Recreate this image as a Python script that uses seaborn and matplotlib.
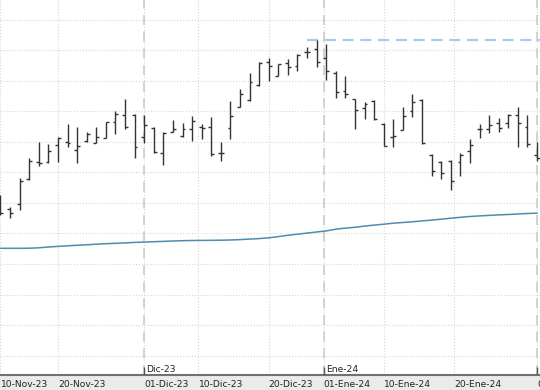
import numpy as np
import pandas as pd
import matplotlib
matplotlib.use('Agg')
import matplotlib.pyplot as plt
import seaborn as sns

# trading days (Spanish market, closed 25/26 Dec and 1 Jan)
holidays = ['2023-12-25', '2023-12-26', '2024-01-01']
dates = pd.bdate_range('2023-11-10', '2024-02-01')
dates = dates[~dates.isin(pd.to_datetime(holidays))]

opens = [4.02, 3.91, 3.96, 4.21, 4.38, 4.38, 4.55, 4.58, 4.50, 4.59,
         4.57, 4.62, 4.78, 4.85, 4.85, 4.63, 4.72, 4.47, 4.68, 4.64,
         4.71, 4.73, 4.73, 4.47, 4.72, 4.93, 5.00, 5.15, 5.38, 5.24,
         5.37, 5.34, 5.48, 5.51, 5.42, 5.27, 5.09, 5.01, 4.92, 4.99,
         4.76, 4.63, 4.70, 4.89, 5.00, 4.45, 4.38, 4.39, 4.38, 4.49,
         4.71, 4.71, 4.77, 4.77, 4.85, 4.73, 4.45]
highs = [4.05, 3.93, 4.22, 4.42, 4.58, 4.56, 4.63, 4.76, 4.73, 4.68,
         4.73, 4.78, 4.89, 5.01, 4.86, 4.85, 4.73, 4.68, 4.80, 4.77,
         4.84, 4.76, 4.83, 4.58, 4.99, 5.11, 5.27, 5.38, 5.42, 5.36,
         5.41, 5.46, 5.53, 5.60, 5.56, 5.29, 5.24, 5.01, 4.98, 5.00,
         4.77, 4.81, 4.93, 5.06, 5.01, 4.46, 4.39, 4.40, 4.47, 4.61,
         4.76, 4.85, 4.82, 4.86, 4.93, 4.85, 4.58]
lows = [3.85, 3.82, 3.90, 4.20, 4.34, 4.37, 4.38, 4.53, 4.37, 4.58,
        4.57, 4.62, 4.66, 4.71, 4.42, 4.57, 4.47, 4.35, 4.68, 4.63,
        4.59, 4.61, 4.44, 4.39, 4.61, 4.93, 4.99, 5.14, 5.19, 5.24,
        5.25, 5.29, 5.42, 5.33, 5.20, 5.02, 5.02, 4.71, 4.81, 4.80,
        4.54, 4.53, 4.70, 4.83, 4.56, 4.24, 4.21, 4.10, 4.24, 4.37,
        4.62, 4.67, 4.68, 4.72, 4.53, 4.53, 4.39]
closes = [3.87, 3.87, 4.19, 4.39, 4.37, 4.49, 4.625, 4.57, 4.54, 4.665,
          4.63, 4.775, 4.855, 4.73, 4.53, 4.75, 4.48, 4.67, 4.71, 4.71,
          4.79, 4.72, 4.46, 4.47, 4.84, 5.06, 5.18, 5.37, 5.34, 5.36,
          5.33, 5.45, 5.48, 5.38, 5.29, 5.08, 5.06, 4.90, 4.96, 4.81,
          4.54, 4.64, 4.84, 4.98, 4.57, 4.29, 4.27, 4.19, 4.45, 4.55,
          4.71, 4.75, 4.72, 4.85, 4.77, 4.56, 4.42]
ma = [3.517, 3.517, 3.517, 3.518, 3.522, 3.530, 3.536, 3.542, 3.547, 3.552,
      3.558, 3.563, 3.567, 3.571, 3.576, 3.579, 3.583, 3.586, 3.590, 3.593,
      3.595, 3.596, 3.597, 3.598, 3.600, 3.604, 3.609, 3.614, 3.622, 3.634,
      3.647, 3.658, 3.669, 3.680, 3.691, 3.708, 3.719, 3.727, 3.739, 3.749,
      3.758, 3.768, 3.775, 3.782, 3.791, 3.799, 3.808, 3.818, 3.827, 3.835,
      3.841, 3.846, 3.851, 3.855, 3.860, 3.865, 3.868]

tick_dates = pd.to_datetime(['2023-11-10', '2023-11-20', '2023-12-01', '2023-12-10', '2023-12-20',
                             '2024-01-01', '2024-01-10', '2024-01-20', '2024-02-01'])
tick_labels = ['10-Nov-23', '20-Nov-23', '01-Dic-23', '10-Dic-23', '20-Dic-23',
               '01-Ene-24', '10-Ene-24', '20-Ene-24', '01-Feb-24']
month_dates = pd.to_datetime(['2023-12-01', '2024-01-01', '2024-02-01'])
month_labels = ['Dic-23', 'Ene-24', 'Feb-24']

df = pd.DataFrame({'date': dates, 'open': opens, 'high': highs,
                   'low': lows, 'close': closes, 'ma': ma})
df['pos'] = np.arange(len(df))

ords = [d.toordinal() for d in df['date']]


def date_pos(d):
    # calendar dates between trading days sit proportionally between bars
    return float(np.interp(d.toordinal(), ords, df['pos']))


sns.set_theme(style='white')
plt.rcParams['font.family'] = ['DejaVu Sans']

fig = plt.figure(figsize=(5.4, 3.9), dpi=100)
fig.patch.set_facecolor('#ebebeb')
ax = fig.add_axes([0, 15 / 390, 1, 375 / 390])
ax.set_facecolor('white')

x0, x1 = -0.05, 56.31
y0, y1 = 2.25, 6.00
ax.set_xlim(x0, x1)
ax.set_ylim(y0, y1)

# grid
ax.set_yticks(np.arange(2.445, 5.81, 0.305))
ax.set_xticks([date_pos(d) for d in tick_dates])
ax.set_xticklabels(tick_labels)
ax.grid(True, linestyle=':', color='#d6d6d6', linewidth=0.8, zorder=0)
ax.set_axisbelow(True)

# month separators
for d, lab in zip(month_dates, month_labels):
    p = date_pos(d)
    ax.axvline(p, color='#cccccc', linestyle=(0, (6, 4)), linewidth=1.2, zorder=1)
    ax.vlines(p, y0, y0 + 0.08, color='#555555', linewidth=1, zorder=3)
    ax.text(p + 0.2, y0 + 0.05, lab, ha='left', va='center', fontsize=6.6, color='#222222')

# moving average
sns.lineplot(data=df, x='pos', y='ma', ax=ax, color='#4f8cb0', linewidth=1.1, zorder=2)

# highest high marker
imax = int(np.argmax(df['high']))
ax.hlines(df['high'].max(), imax - 1, x1, colors='#a6cbee', linestyles=(0, (5, 3)),
          linewidth=1.6, zorder=2)

# OHLC bars
w = 0.3
ax.vlines(df['pos'], df['low'], df['high'], color='#333333', linewidth=1, zorder=4)
ax.hlines(df['open'], df['pos'] - w, df['pos'], color='#333333', linewidth=1, zorder=4)
ax.hlines(df['close'], df['pos'], df['pos'] + w, color='#333333', linewidth=1, zorder=4)

ax.set_xlabel('')
ax.set_ylabel('')
for s in ['top', 'left', 'right']:
    ax.spines[s].set_visible(False)
ax.spines['bottom'].set_color('#707070')
ax.spines['bottom'].set_linewidth(1.5)
ax.tick_params(axis='y', length=0, labelleft=False)
ax.tick_params(axis='x', length=3, width=1, color='#555555', direction='out',
               pad=0.5, labelsize=6.6, labelcolor='#222222')
for lab in ax.get_xticklabels():
    lab.set_ha('left')

plt.savefig('out.png', dpi=100, facecolor=fig.get_facecolor())
